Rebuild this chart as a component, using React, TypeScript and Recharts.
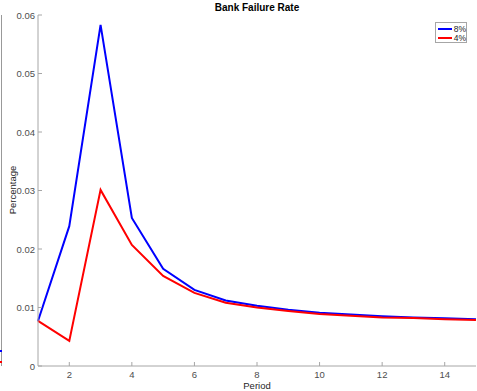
import React from "react";
import { LineChart, Line, XAxis, YAxis } from "recharts";

const periods = [1, 2, 3, 4, 5, 6, 7, 8, 9, 10, 11, 12, 13, 14, 15];
const rate8 = [0.0077, 0.0239, 0.0583, 0.0253, 0.0166, 0.013, 0.0112, 0.0103, 0.0096, 0.0091, 0.0088, 0.0085, 0.0083, 0.00815, 0.008];
const rate4 = [0.0077, 0.0043, 0.0301, 0.0207, 0.0154, 0.0125, 0.0108, 0.01, 0.0094, 0.0089, 0.0086, 0.0083, 0.0082, 0.008, 0.00786];
const xTicks = [2, 4, 6, 8, 10, 12, 14];
const yTicks = [0, 0.01, 0.02, 0.03, 0.04, 0.05, 0.06];
const seriesNames = ["8%", "4%"];
const seriesColors = ["#0000ff", "#ff0000"];

const data = periods.map((p, i) => ({ period: p, r8: rate8[i], r4: rate4[i] }));

const AXIS = "#a6a6a6";
const TXT = "#4d4d4d";
const FONT = "'Liberation Sans', Arial, sans-serif";

const BottomTick = ({ x, y, payload }: any) => (
    <g>
        <line x1={x} y1={y} x2={x} y2={y - 4} stroke={AXIS} />
        <text x={x} y={y + 12} textAnchor="middle" fontSize={9.5} fill={TXT} fontFamily={FONT}>
            {payload.value}
        </text>
    </g>
);

const TopTick = ({ x, y }: any) => <line x1={x} y1={y} x2={x} y2={y + 4} stroke={AXIS} />;

const LeftTick = ({ x, y, payload }: any) => (
    <g>
        <line x1={x} y1={y} x2={x + 4} y2={y} stroke={AXIS} />
        <text x={x - 3} y={y + 3.5} textAnchor="end" fontSize={9.5} fill={TXT} fontFamily={FONT}>
            {payload.value}
        </text>
    </g>
);

const RightTick = ({ x, y }: any) => <line x1={x} y1={y} x2={x - 4} y2={y} stroke={AXIS} />;

export default function App() {
    return (
        <div style={{ position: "absolute", left: 0, top: 0, width: 477, height: 391, background: "#fff" }}>
            <LineChart width={477} height={391} data={data} margin={{ top: 15, right: 1, bottom: 0, left: 0 }}>
                <XAxis
                    xAxisId="b"
                    dataKey="period"
                    type="number"
                    domain={[1, 15]}
                    ticks={xTicks}
                    height={25}
                    stroke={AXIS}
                    tickLine={false}
                    tickSize={0}
                    tickMargin={0}
                    tick={<BottomTick />}
                    interval={0}
                />
                <XAxis
                    xAxisId="t"
                    orientation="top"
                    dataKey="period"
                    type="number"
                    domain={[1, 15]}
                    ticks={xTicks}
                    height={0}
                    stroke={AXIS}
                    tickLine={false}
                    tickSize={0}
                    tickMargin={0}
                    tick={<TopTick />}
                    interval={0}
                />
                <YAxis
                    yAxisId="l"
                    type="number"
                    domain={[0, 0.06]}
                    ticks={yTicks}
                    width={38}
                    stroke={AXIS}
                    tickLine={false}
                    tickSize={0}
                    tickMargin={0}
                    tick={<LeftTick />}
                    interval={0}
                />
                <YAxis
                    yAxisId="r"
                    orientation="right"
                    type="number"
                    domain={[0, 0.06]}
                    ticks={yTicks}
                    width={0}
                    stroke={AXIS}
                    tickLine={false}
                    tickSize={0}
                    tickMargin={0}
                    tick={<RightTick />}
                    interval={0}
                />
                <Line
                    xAxisId="b"
                    yAxisId="l"
                    type="linear"
                    dataKey="r8"
                    name={seriesNames[0]}
                    stroke={seriesColors[0]}
                    strokeWidth={2}
                    dot={false}
                    isAnimationActive={false}
                />
                <Line
                    xAxisId="b"
                    yAxisId="l"
                    type="linear"
                    dataKey="r4"
                    name={seriesNames[1]}
                    stroke={seriesColors[1]}
                    strokeWidth={2}
                    dot={false}
                    isAnimationActive={false}
                />
            </LineChart>
            {/* edge of the neighbouring figure */}
            <div style={{ position: "absolute", left: 1, top: 15, width: 1, height: 351, background: "#999" }} />
            <div style={{ position: "absolute", left: 0, top: 350, width: 2, height: 2, background: "#0000ff" }} />
            <div style={{ position: "absolute", left: 0, top: 361, width: 2, height: 2, background: "#ff0000" }} />
            <div
                style={{
                    position: "absolute",
                    left: 38,
                    width: 438,
                    top: 2,
                    textAlign: "center",
                    fontFamily: FONT,
                    fontWeight: "bold",
                    fontSize: 10,
                    color: "#000",
                }}
            >
                Bank Failure Rate
            </div>
            <div
                style={{
                    position: "absolute",
                    left: 38,
                    width: 438,
                    top: 380,
                    textAlign: "center",
                    fontFamily: FONT,
                    fontSize: 9.5,
                    color: "#262626",
                }}
            >
                Period
            </div>
            <div
                style={{
                    position: "absolute",
                    left: 12,
                    top: 190,
                    transform: "translate(-50%, -50%) rotate(-90deg)",
                    fontFamily: FONT,
                    fontSize: 9.5,
                    color: "#262626",
                    whiteSpace: "nowrap",
                }}
            >
                Percentage
            </div>
            <div
                style={{
                    position: "absolute",
                    left: 435,
                    top: 22,
                    width: 32,
                    height: 21,
                    boxSizing: "border-box",
                    border: "1px solid #a6a6a6",
                    background: "#fff",
                    paddingTop: 1,
                    fontFamily: FONT,
                    fontSize: 8.5,
                    color: "#262626",
                }}
            >
                {seriesNames.map((n, i) => (
                    <div key={n} style={{ display: "flex", alignItems: "center", height: 9 }}>
                        <span style={{ display: "inline-block", width: 16, height: 2, marginLeft: 2, marginRight: 2, background: seriesColors[i] }} />
                        <span>{n}</span>
                    </div>
                ))}
            </div>
        </div>
    );
}
